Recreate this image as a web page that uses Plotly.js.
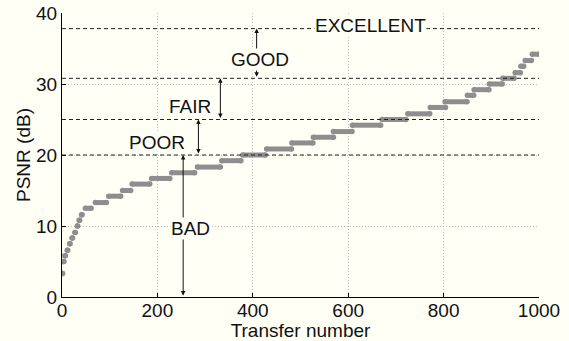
<!DOCTYPE html>
<html>
<head>
<meta charset="utf-8">
<script src="https://cdn.plot.ly/plotly-3.0.1.min.js"></script>
<style>html,body{margin:0;padding:0;background:#fffff6;}#chart{width:569px;height:341px;}</style>
</head>
<body>
<div id="chart"></div>
<script>
// Plateaus of the PSNR curve: start transfer, end transfer, PSNR (dB)
const segStart = [1, 3, 6, 11, 16, 21, 27, 32, 36, 41, 49, 70, 98, 127, 147, 188, 230, 284, 335, 379, 429, 482, 527, 569, 609, 671, 725, 772, 803, 850, 864, 896, 924, 950, 962, 971, 986];
const segEnd   = [1, 4, 7, 12, 17, 22, 28, 33, 37, 42, 61, 93, 123, 144, 184, 226, 278, 332, 375, 426, 481, 526, 569, 608, 668, 721, 771, 804, 849, 863, 895, 923, 948, 961, 968, 984, 1000];
const segPsnr  = [3.3, 5.0, 5.8, 6.6, 7.5, 8.3, 9.1, 10.0, 10.8, 11.6, 12.5, 13.3, 14.2, 15.0, 15.9, 16.7, 17.5, 18.3, 19.2, 20.0, 20.85, 21.7, 22.5, 23.3, 24.2, 25.0, 25.8, 26.7, 27.5, 28.4, 29.2, 30.0, 30.8, 31.6, 32.5, 33.3, 34.2];

// Quality thresholds (dB)
const thresholds = [20, 25, 30.8, 37.8];
const qualityLabels = ['BAD', 'POOR', 'FAIR', 'GOOD', 'EXCELLENT'];
// where each range arrow sits (transfer number)
const arrowX = [254, 286, 332, 408];
const labelX = [270, 199, 268, 415, 646];
const labelY = [9.7, 21.7, 26.9, 33.5, 38.3];

const xTicks = [0, 200, 400, 600, 800, 1000];
const yTicks = [0, 10, 20, 30, 40];

const bg = '#fffff6';
const font = {family: '"Liberation Sans", Arial, sans-serif', size: 19, color: '#111'};

const xs = [], ys = [];
for (let i = 0; i < segStart.length; i++) {
  xs.push(segStart[i], segEnd[i], null);
  ys.push(segPsnr[i], segPsnr[i], null);
}
const trace = {
  x: xs, y: ys, type: 'scatter', mode: 'lines+markers',
  line: {color: '#8e8e8e', width: 5},
  marker: {color: '#8e8e8e', size: 5.5},
  connectgaps: false, hoverinfo: 'skip', showlegend: false
};

const shapes = thresholds.map(t => ({
  type: 'line', xref: 'x', yref: 'y', x0: 0, x1: 1000, y0: t, y1: t,
  line: {color: '#222', width: 1, dash: '4px,3px'}, layer: 'above'
}));

const annotations = [];
const lows = [0].concat(thresholds.slice(0, 3));
const highs = thresholds;
for (let i = 0; i < 4; i++) {
  annotations.push({
    x: arrowX[i], y: highs[i], ax: arrowX[i], ay: lows[i], axref: 'x', ayref: 'y',
    xref: 'x', yref: 'y', text: '', showarrow: true, arrowside: 'end+start',
    arrowhead: 2, arrowsize: 0.9, arrowwidth: 1, arrowcolor: '#111',
    standoff: 0, startstandoff: 0
  });
}
for (let i = 0; i < 5; i++) {
  annotations.push({
    x: labelX[i], y: labelY[i], xref: 'x', yref: 'y', text: qualityLabels[i],
    showarrow: false, font: font, bgcolor: bg, borderpad: 0,
    xanchor: 'center', yanchor: 'middle'
  });
}

const axisCommon = {
  showgrid: true, gridcolor: '#bdbdbd', griddash: '1px,2px', gridwidth: 1,
  showline: true, linecolor: '#000', linewidth: 1, mirror: false,
  ticks: 'inside', ticklen: 4, tickcolor: '#000', zeroline: false,
  tickfont: font, automargin: false, fixedrange: true
};

const layout = {
  width: 569, height: 341,
  margin: {l: 62, r: 30, t: 13, b: 44},
  paper_bgcolor: bg, plot_bgcolor: bg,
  font: font,
  xaxis: Object.assign({}, axisCommon, {
    range: [0, 1000], tickvals: xTicks, ticktext: xTicks.map(String),
    ticklabelstandoff: -4,
    title: {text: 'Transfer number', font: font, standoff: 0}
  }),
  yaxis: Object.assign({}, axisCommon, {
    range: [0, 40], tickvals: yTicks, ticktext: yTicks.map(String),
    title: {text: 'PSNR (dB)', font: font, standoff: 0}
  }),
  shapes: shapes,
  annotations: annotations,
  showlegend: false
};

Plotly.newPlot('chart', [trace], layout, {displayModeBar: false, staticPlot: true});
</script>
</body>
</html>
